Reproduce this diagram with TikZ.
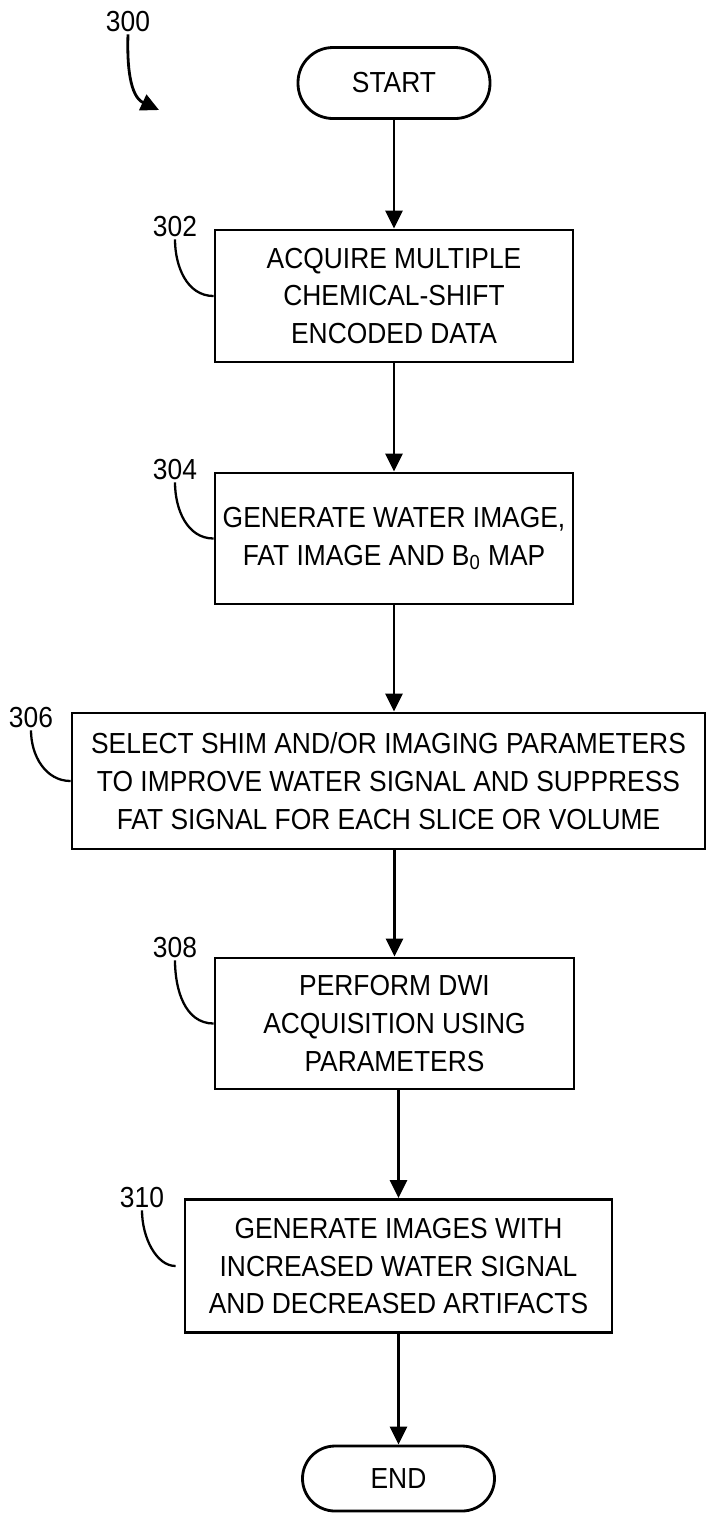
\documentclass[tikz,border=0pt]{standalone}
\usepackage{fontspec}
\setmainfont{Liberation Sans}[FakeStretch=0.91]
\usetikzlibrary{shapes.geometric, arrows.meta, positioning, calc}
\tikzstyle{process} = [rectangle, minimum width=7.16cm, minimum height=2.64cm, text centered, align=center, draw=black, line width=1.6pt, inner sep=0pt, font=\fontsize{16.5}{21.6}\selectfont]
\tikzstyle{terminal} = [rectangle, minimum width=3.84cm, minimum height=1.42cm, rounded corners=0.7cm, text centered, draw=black, line width=1.6pt, font=\fontsize{16.5}{21.6}\selectfont]
\tikzstyle{refnum} = [inner sep=1pt, font=\fontsize{16.5}{18}\selectfont]
\tikzstyle{arrow} = [line width=1.6pt,-{Triangle[length=0.36cm,width=0.34cm]}]
\tikzstyle{hook} = [line width=1.3pt]

\begin{document}
\begin{tikzpicture}[node distance=4.85cm]
    \useasboundingbox (0,0) rectangle (14.14,-30.38);

    \node (start) [terminal] at (7.88,-1.66) {START};
    \node (s302) [process, below of=start, yshift=0.59cm] {ACQUIRE MULTIPLE\\CHEMICAL-SHIFT\\ENCODED DATA};
    \node (s304) [process, below of=s302, minimum height=2.62cm] {GENERATE WATER IMAGE,\\FAT IMAGE AND B\textsubscript{0} MAP};
    \node (s306) [process, below of=s304, xshift=-0.11cm, minimum width=12.66cm, minimum height=2.72cm] {SELECT SHIM AND/OR IMAGING PARAMETERS\\TO IMPROVE WATER SIGNAL AND SUPPRESS\\FAT SIGNAL FOR EACH SLICE OR VOLUME};
    \node (s308) [process, below of=s306, xshift=0.12cm, minimum width=7.18cm, minimum height=2.62cm] {PERFORM DWI\\ACQUISITION USING\\PARAMETERS};
    \node (s310) [process, below of=s308, xshift=0.08cm, minimum width=8.54cm, minimum height=2.66cm] {GENERATE IMAGES WITH\\INCREASED WATER SIGNAL\\AND DECREASED ARTIFACTS};
    \node (end) [terminal, below of=s310, yshift=0.6cm, minimum height=1.3cm, rounded corners=0.65cm] {END};

    % reference numerals
    \node (l300) [refnum] at (2.56,-0.44) {300};
    \node (l302) [refnum] at (3.5,-4.54) {302};
    \node (l304) [refnum] at (3.5,-9.4) {304};
    \node (l306) [refnum] at (0.62,-14.36) {306};
    \node (l308) [refnum] at (3.5,-18.96) {308};
    \node (l310) [refnum] at (2.84,-23.96) {310};
    \coordinate (a300) at (3.18,-2.2);

    \draw [arrow] (l300.south) to[out=-92, in=155] (a300);
    \draw [hook] (l302.south) to[out=-90, in=180] (s302.west);
    \draw [hook] (l304.south) to[out=-90, in=180] (s304.west);
    \draw [hook] (l306.south) to[out=-90, in=180] (s306.west);
    \draw [hook] (l308.south) to[out=-90, in=180] (s308.west);
    \draw [hook, shorten >=0.16cm] (l310.south) to[out=-90, in=180] (s310.west);

    \draw [arrow] (start) -- (s302);
    \draw [arrow] (s302) -- (s304);
    \draw [arrow] (s304.south) -- (s304.south |- s306.north);
    \draw [arrow] (s308.north |- s306.south) -- (s308.north);
    \draw [arrow] (s310.north |- s308.south) -- (s310.north);
    \draw [arrow] (s310.south) -- (s310.south |- end.north);
\end{tikzpicture}
\end{document}
